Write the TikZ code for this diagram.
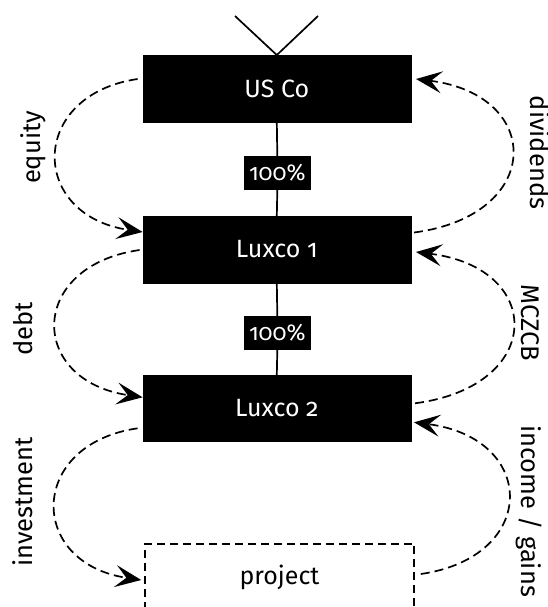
\documentclass[tikz,border=0pt]{standalone}
\usepackage{fontspec}
\setmainfont{Fira Sans}[Numbers=OldStyle]
\usetikzlibrary{arrows.meta}
\begin{document}
\begin{tikzpicture}[x=1pt,y=-1pt,
  entity/.style={fill=black, draw=black, text=white, minimum width=268pt, minimum height=66.5pt, inner sep=0pt, font=\fontsize{25}{30}\selectfont},
  share/.style={fill=black, text=white, minimum width=66.5pt, minimum height=34pt, inner sep=0pt, font=\fontsize{23}{28}\selectfont},
  venture/.style={draw=black, dash pattern=on 8pt off 5pt, line width=1.6pt, minimum width=269pt, minimum height=66.5pt, inner sep=0pt, font=\fontsize{25}{30}\selectfont},
  flow/.style={dash pattern=on 9pt off 5pt, line width=1.7pt, -{Stealth[length=26pt,width=22pt,inset=11pt]}},
  link/.style={line width=1.7pt},
  lbl/.style={font=\fontsize{25.5}{30}\selectfont, anchor=base}
]
\fill[white] (0,0) rectangle (548,607);
\clip (0,0) rectangle (548,607);

% ownership chain
\node[entity] (usco) at (276.8,88.5) {US Co};
\node[entity] (lux1) at (276.8,249.5) {Luxco 1};
\node[entity] (lux2) at (276.8,408.3) {Luxco 2};
\node[venture] (proj) at (279.5,577) {project};
\node[share] (pct1) at (277.3,173) {100\%};
\node[share] (pct2) at (277.3,333) {100\%};

\coordinate (vl) at (235,16);
\coordinate (vr) at (318,16);
\draw[link] (vl) -- (usco.north) -- (vr);
\draw[link] (usco.south) -- (pct1.north);
\draw[link] (pct1.south) -- (lux1.north);
\draw[link] (lux1.south) -- (pct2.north);
\draw[link] (pct2.south) -- (lux2.north);

% funding flows (left) and returns (right)
\draw[flow] ([xshift=-5pt,yshift=9.5pt]usco.west) .. controls +(-109,16) and +(-114,-17) .. ([yshift=17.5pt]lux1.west);
\draw[flow] ([xshift=3pt,yshift=17pt]lux1.east) .. controls +(130,-17) and +(128,16) .. ([xshift=5pt,yshift=9.5pt]usco.east);

\draw[flow] ([xshift=-3pt,yshift=-0.5pt]lux1.west) .. controls +(-112,16) and +(-115,-17) .. ([yshift=11pt]lux2.west);
\draw[flow] ([xshift=4pt,yshift=5pt]lux2.east) .. controls +(130,-17) and +(129,16) .. ([xshift=5pt,yshift=-2.5pt]lux1.east);

\draw[flow] ([xshift=-5pt,yshift=-20pt]lux2.west) .. controls +(-110,16) and +(-114,-17) .. ([xshift=-3pt,yshift=-3pt]proj.west);
\draw[flow] ([xshift=6pt,yshift=3pt]proj.east) .. controls +(118,-17) and +(124,16) .. ([xshift=3pt,yshift=-14pt]lux2.east);

% flow labels
\node[lbl, rotate=90] (lequity) at (40,147.5) {equity};
\node[lbl, rotate=-90] (ldiv) at (530,152.5) {dividends};
\node[lbl, rotate=90] (ldebt) at (32,329) {debt};
\node[lbl, rotate=-90] (lmczcb) at (521,323) {MCZCB};
\node[lbl, rotate=90] (linv) at (32,502) {investment};
\node[lbl, rotate=-90] (linc) at (521,511) {income / gains};
\end{tikzpicture}
\end{document}
